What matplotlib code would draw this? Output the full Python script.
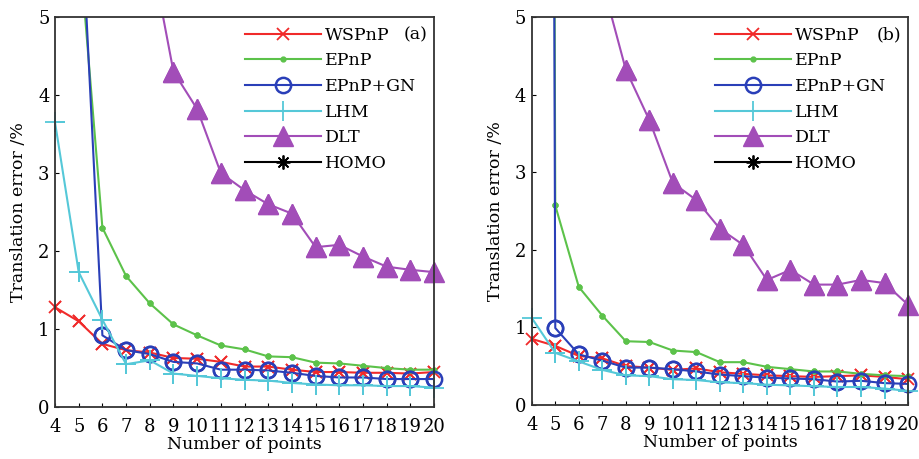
import numpy as np
import matplotlib
matplotlib.use("Agg")
import matplotlib.pyplot as plt

plt.rcParams['font.family'] = ['DejaVu Serif']

n_points = list(range(4, 21))
tick_labels = [str(n) for n in n_points]

# panel (a)  -- values above 5 run off the top of the axes
wspnp_a = [1.28, 1.10, 0.81, 0.73, 0.70, 0.63, 0.62, 0.58, 0.52, 0.52, 0.48, 0.45, 0.45, 0.44, 0.44, 0.43, 0.45]
epnp_a = [10.0, 6.0, 2.30, 1.68, 1.33, 1.06, 0.92, 0.79, 0.74, 0.65, 0.64, 0.57, 0.56, 0.53, 0.50, 0.48, 0.48]
epnpgn_a = [11.0, 7.0, 0.92, 0.73, 0.68, 0.58, 0.56, 0.48, 0.48, 0.47, 0.44, 0.40, 0.38, 0.38, 0.36, 0.36, 0.36]
lhm_a = [3.65, 1.73, 1.12, 0.55, 0.60, 0.43, 0.40, 0.37, 0.35, 0.34, 0.31, 0.29, 0.28, 0.28, 0.27, 0.27, 0.25]
dlt_a = [20.0, 14.0, 10.0, 7.5, 5.9, 4.30, 3.82, 3.00, 2.78, 2.60, 2.48, 2.05, 2.08, 1.93, 1.80, 1.76, 1.73]
homo_a = [40.0, 30.0, 25.0, 20.0, 18.0, 16.0, 15.0, 14.0, 13.0, 12.0, 11.5, 11.0, 10.5, 10.0, 9.8, 9.5, 9.2]

# panel (b)
wspnp_b = [0.85, 0.76, 0.63, 0.60, 0.50, 0.48, 0.45, 0.47, 0.42, 0.40, 0.38, 0.37, 0.36, 0.37, 0.38, 0.36, 0.33]
epnp_b = [100.0, 2.57, 1.52, 1.15, 0.82, 0.81, 0.70, 0.68, 0.55, 0.55, 0.49, 0.46, 0.43, 0.43, 0.40, 0.38, 0.37]
epnpgn_b = [100.0, 0.99, 0.65, 0.57, 0.48, 0.48, 0.46, 0.43, 0.39, 0.37, 0.35, 0.34, 0.33, 0.30, 0.31, 0.28, 0.27]
lhm_b = [1.12, 0.67, 0.56, 0.45, 0.38, 0.37, 0.33, 0.32, 0.29, 0.28, 0.26, 0.25, 0.24, 0.23, 0.23, 0.21, 0.18]
dlt_b = [20.0, 12.0, 8.0, 5.45, 4.32, 3.67, 2.86, 2.64, 2.27, 2.06, 1.61, 1.74, 1.55, 1.55, 1.61, 1.57, 1.29]
homo_b = [40.0, 30.0, 25.0, 20.0, 18.0, 16.0, 15.0, 14.0, 13.0, 12.0, 11.5, 11.0, 10.5, 10.0, 9.8, 9.5, 9.2]

names = ['WSPnP', 'EPnP', 'EPnP+GN', 'LHM', 'DLT', 'HOMO']
colors = ['#f02a2a', '#5cc24a', '#2a3fb8', '#55c8d8', '#a24db8', 'black']
styles = [
    dict(marker='x', ms=8, mew=1.3),
    dict(marker='.', ms=7),
    dict(marker='o', ms=11, mfc='none', mew=1.8),
    dict(marker='+', ms=14, mew=1.3),
    dict(marker='^', ms=14),
    dict(marker=(8, 2, 0), ms=10, mew=1.3),
]

fig = plt.figure(figsize=(9.2, 4.59), dpi=100)
ax_a = fig.add_axes([0.0598, 0.113, 0.412, 0.85])
ax_b = fig.add_axes([0.578, 0.118, 0.409, 0.845])

panels = [
    (ax_a, [wspnp_a, epnp_a, epnpgn_a, lhm_a, dlt_a, homo_a], '(a)', 0.501),
    (ax_b, [wspnp_b, epnp_b, epnpgn_b, lhm_b, dlt_b, homo_b], '(b)', 0.487),
]

ymax = 5
for ax, series, tag, leg_x in panels:
    for vals, name, c, st in zip(series, names, colors, styles):
        ax.plot(n_points, vals, color=c, lw=1.5, label=name, **st)
        # markers inside the y range are drawn unclipped, as in the original
        x_in = [x for x, v in zip(n_points, vals) if v <= ymax]
        v_in = [v for v in vals if v <= ymax]
        ax.plot(x_in, v_in, color=c, ls='none', clip_on=False, **st)
    ax.set_xlim(4, 20)
    ax.set_ylim(0, ymax)
    ax.set_xticks(n_points)
    ax.set_xticklabels(tick_labels)
    ax.set_yticks([0, 1, 2, 3, 4, 5])
    ax.tick_params(axis='x', direction='in', length=3, labelsize=13, pad=8)
    ax.tick_params(axis='y', direction='in', length=3, labelsize=13, pad=4)
    for s in ax.spines.values():
        s.set_linewidth(1.3)
        s.set_color('#333333')
    ax.set_xlabel('Number of points', fontsize=12.5, labelpad=0)
    ax.set_ylabel('Translation error /%', fontsize=12.5, labelpad=8)
    ax.legend(loc='upper left', bbox_to_anchor=(leg_x, 0.975), frameon=False,
              fontsize=12.5, handlelength=4.4, handletextpad=0.2,
              labelspacing=0.5, borderpad=0, borderaxespad=0)
    ax.text(0.95, 0.955, tag, transform=ax.transAxes, fontsize=12.5,
            ha='center', va='center')

fig.savefig('out.png', dpi=100)
